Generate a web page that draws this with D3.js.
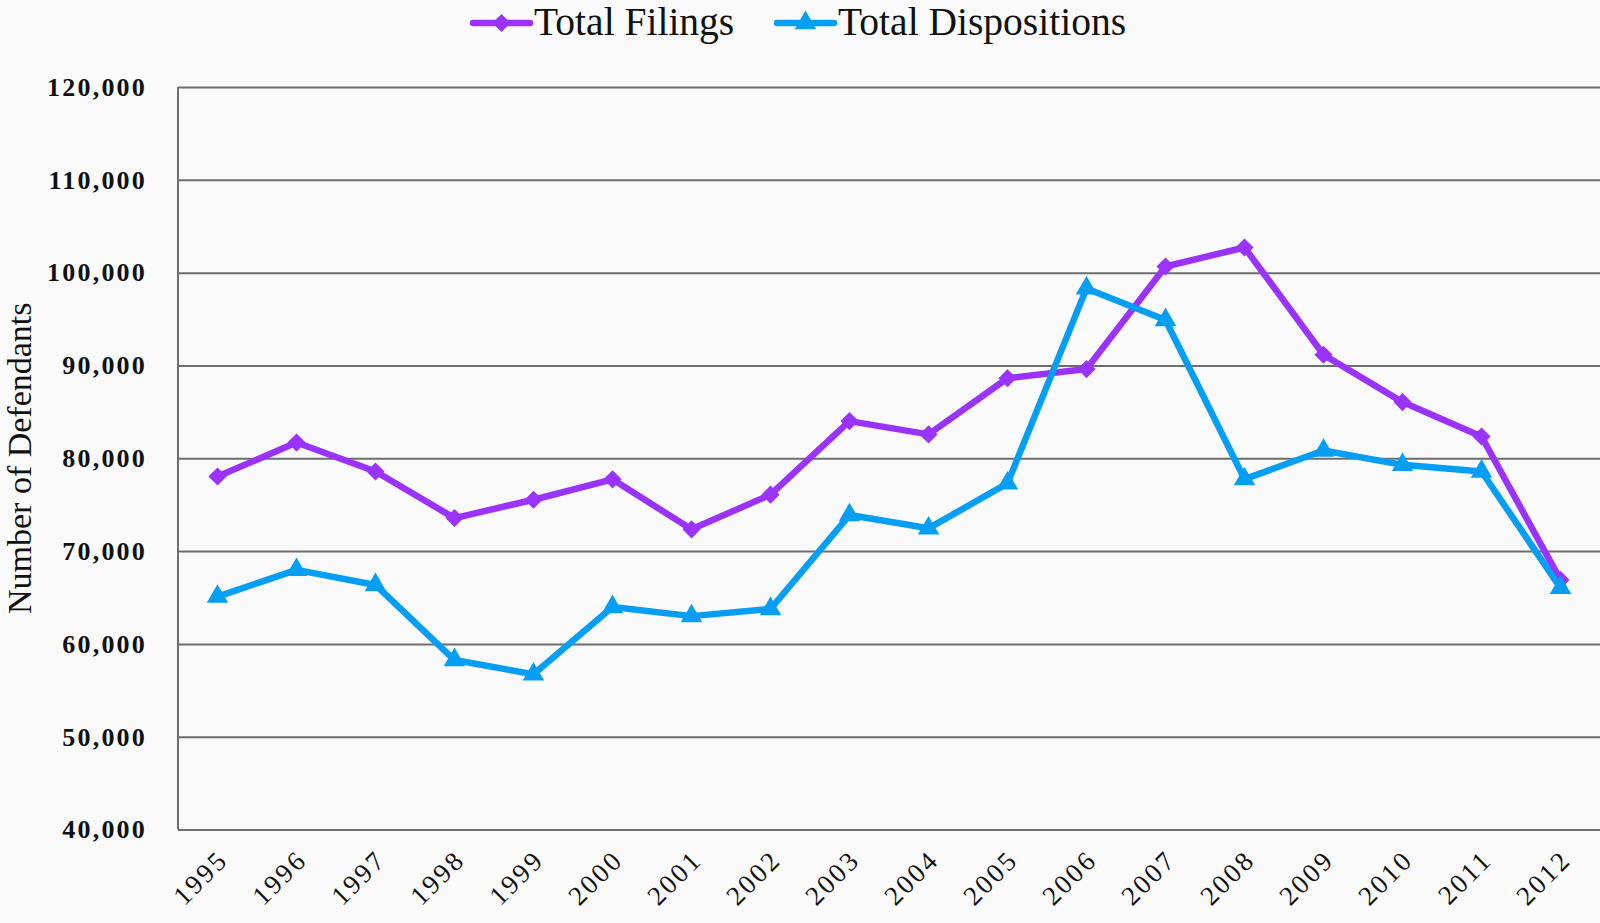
<!DOCTYPE html>
<html>
<head>
<meta charset="utf-8">
<script src="https://cdn.jsdelivr.net/npm/d3@7"></script>
<style>
  body { margin: 0; background: #fafafa; }
  svg { display: block; }
</style>
</head>
<body>
<svg width="1600" height="923"></svg>
<script>
var years = ["1995", "1996", "1997", "1998", "1999", "2000", "2001", "2002", "2003",
             "2004", "2005", "2006", "2007", "2008", "2009", "2010", "2011", "2012"];
var filings = [78030, 81690, 78570, 73550, 75530, 77730, 72340, 76080, 84000,
               82570, 88620, 89610, 100660, 102710, 91150, 86050, 82340, 66890];
var dispositions = [65090, 67970, 66350, 58260, 56720, 63980, 62990, 63760, 73880,
                    72450, 77290, 98300, 94900, 77750, 80830, 79290, 78570, 66030];
var yTicks = [40000, 50000, 60000, 70000, 80000, 90000, 100000, 110000, 120000];

var svg = d3.select("svg"),
    width = +svg.attr("width"),
    height = +svg.attr("height");

var margin = {top: 87, right: 0, bottom: 93.5, left: 178};
var plotW = width - margin.left - margin.right,
    plotH = height - margin.top - margin.bottom;

var serif = "'Liberation Serif', 'DejaVu Serif', serif";
var purple = "#9b33ff", blue = "#049ff5";

var x = d3.scaleBand().domain(years).range([margin.left, margin.left + plotW]);
var y = d3.scaleLinear().domain([40000, 120000]).range([margin.top + plotH, margin.top]);

// gridlines + y labels
var yAxis = svg.append("g")
    .attr("transform", "translate(" + margin.left + ",0)")
    .call(d3.axisLeft(y).tickValues(yTicks).tickSize(-plotW).tickPadding(31)
        .tickFormat(d3.format(",")));
yAxis.select(".domain").remove();
yAxis.selectAll(".tick line").attr("stroke", "#6e6e6e").attr("stroke-width", 2);
yAxis.selectAll(".tick text")
    .attr("fill", "#111")
    .style("font-family", serif)
    .style("font-size", "26px")
    .style("font-weight", "bold")
    .style("letter-spacing", "2.2px");

// left axis line
svg.append("line")
    .attr("x1", margin.left).attr("x2", margin.left)
    .attr("y1", margin.top).attr("y2", margin.top + plotH)
    .attr("stroke", "#6e6e6e").attr("stroke-width", 2);

// x labels
var xAxis = svg.append("g")
    .attr("transform", "translate(0," + (margin.top + plotH) + ")")
    .call(d3.axisBottom(x).tickSize(0).tickPadding(0));
xAxis.select(".domain").attr("stroke", "#6e6e6e").attr("stroke-width", 2);
xAxis.selectAll(".tick text")
    .attr("fill", "#111")
    .attr("text-anchor", "end")
    .attr("dy", 0)
    .attr("transform", "translate(12,32) rotate(-45)")
    .style("font-family", serif)
    .style("font-size", "27px")
    .style("letter-spacing", "2.5px");

// y title
svg.append("text")
    .attr("transform", "translate(31," + (margin.top + plotH / 2) + ") rotate(-90)")
    .attr("text-anchor", "middle")
    .attr("fill", "#111")
    .style("font-family", serif)
    .style("font-size", "34px")
    .text("Number of Defendants");

var line = d3.line()
    .x(function(d, i) { return x(years[i]) + x.bandwidth() / 2; })
    .y(function(d) { return y(d); });

var diamond = d3.symbol().type(d3.symbolSquare).size(165);
var triangle = d3.symbol().type(d3.symbolTriangle).size(200);

function drawSeries(values, color, sym, rot) {
    svg.append("path")
        .datum(values)
        .attr("fill", "none")
        .attr("stroke", color)
        .attr("stroke-width", 6.5)
        .attr("stroke-linejoin", "round")
        .attr("d", line);

    svg.append("g").selectAll("path")
        .data(values)
        .enter().append("path")
        .attr("d", sym)
        .attr("fill", color)
        .attr("transform", function(d, i) {
            return "translate(" + (x(years[i]) + x.bandwidth() / 2) + "," + y(d) + ") rotate(" + rot + ")";
        });
}

drawSeries(filings, purple, diamond, 45);
drawSeries(dispositions, blue, triangle, 0);

// legend
var legend = [
    {name: "Total Filings", color: purple, sym: diamond, rot: 45, x: 473},
    {name: "Total Dispositions", color: blue, sym: triangle, rot: 0, x: 777}
];
var lg = svg.append("g").selectAll("g")
    .data(legend)
    .enter().append("g")
    .attr("transform", function(d) { return "translate(" + d.x + ",23)"; });
lg.append("line")
    .attr("x1", 0).attr("x2", 57)
    .attr("stroke", function(d) { return d.color; })
    .attr("stroke-width", 6.5)
    .attr("stroke-linecap", "round");
lg.append("path")
    .attr("d", function(d) { return d.sym(); })
    .attr("fill", function(d) { return d.color; })
    .attr("transform", function(d) { return "translate(28.5,0) rotate(" + d.rot + ")"; });
lg.append("text")
    .attr("x", 61)
    .attr("y", 12)
    .attr("fill", "#111")
    .style("font-family", serif)
    .style("font-size", "39.5px")
    .text(function(d) { return d.name; });
</script>
</body>
</html>
